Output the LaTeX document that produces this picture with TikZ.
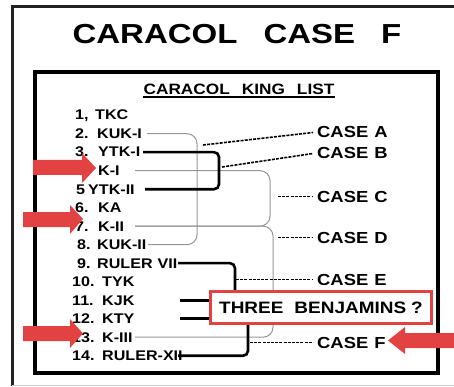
\documentclass[tikz,border=0pt]{standalone}
\usepackage{fontspec}
\setmainfont{Liberation Sans}
\newfontfamily\kingfont[FakeStretch=1.15]{Liberation Sans}
\newfontfamily\titlefont[FakeStretch=1.2]{Liberation Sans}
\usetikzlibrary{calc}
\definecolor{markred}{RGB}{226, 66, 66}
\definecolor{framegray}{RGB}{34, 34, 34}
\definecolor{linkgray}{RGB}{150, 150, 150}
\tikzset{
  titletext/.style  = {inner sep=0pt, font=\titlefont\bfseries\fontsize{27.5}{31}\selectfont},
  listhead/.style   = {inner sep=0pt, font=\kingfont\bfseries\fontsize{15}{17}\selectfont},
  kingname/.style   = {anchor=base west, inner sep=0pt, font=\kingfont\bfseries\fontsize{14}{16}\selectfont},
  casename/.style   = {anchor=base west, inner ysep=0pt, inner xsep=4pt, font=\kingfont\bfseries\fontsize{16}{18}\selectfont},
  benjbox/.style    = {draw=markred, line width=3pt, fill=white, minimum width=221pt, minimum height=32pt, inner sep=0pt, font=\kingfont\bfseries\fontsize{16.5}{18}\selectfont},
  graylink/.style   = {linkgray, line width=1pt, rounded corners=10pt},
  blacklink/.style  = {black, line width=2.6pt, rounded corners=5pt},
  caselink/.style   = {black, line width=1.6pt, dash pattern=on 3pt off 1.2pt},
  redarrow/.style   = {fill=markred},
}

\begin{document}
\begin{tikzpicture}[x=1pt, y=-1pt]
\useasboundingbox (0,0) rectangle (454,387);

% ===== frames =====
\draw[framegray, line width=3pt] (12,386) -- (12,7) -- (454,7);
\draw[black!20, line width=0.8pt] (12,385.5) -- (454,385.5);
\draw[black, line width=3.5pt] (35,72) rectangle (438,373);

% ===== titles =====
\node[titletext] (title) at (237,34.5) {CARACOL\hspace{26pt}CASE\hspace{26pt}F};
\node[listhead] (listtitle) at (239,89) {CARACOL\hspace{12pt}KING\hspace{12pt}LIST};
\draw[line width=1.4pt] ([yshift=-2.5pt]listtitle.south west) -- ([yshift=-2.5pt]listtitle.south east);

% ===== king list =====
\foreach \i/\x/\w/\num/\name in {
  1/75/20/{1,}/TKC, 2/75/22/2./KUK-I, 3/75/23/3./YTK-I, 4/75/23/4./K-I,
  5/76/12/5/YTK-II, 6/75/23/6./KA, 7/75/23/7./K-II, 8/77/20/8./KUK-II,
  9/77/20/9./{RULER\hspace{5pt}VII}, 10/72/30/10./TYK, 11/72/30/11./KJK,
  12/72/30/12./KTY, 13/72/30/13./K-III, 14/72/30/14./RULER-XII}
  \node[kingname] (k\i) at (\x,{120+18.5*(\i-1)}) {\makebox[\w pt][l]{\num}\name};

% ===== cases =====
\node[casename] (caseA) at (313,138) {CASE\hspace{6pt}A};
\node[casename] (caseB) at (313,159) {CASE\hspace{6pt}B};
\node[casename] (caseC) at (313,202) {CASE\hspace{6pt}C};
\node[casename] (caseD) at (313,243) {CASE\hspace{6pt}D};
\node[casename] (caseE) at (313,285) {CASE\hspace{6pt}E};
\node[casename] (caseF) at (313,348) {CASE\hspace{6pt}F};

% ===== gray links =====
\draw[graylink] (147,0 |- k2) -- (197,0 |- k2) -- (197,0 |- k8) -- (148,0 |- k8);
\draw[graylink] (135,0 |- k4) -- (270,0 |- k4) -- (270,0 |- k7) -- (135,0 |- k7);
\draw[graylink] (135,0 |- k7) -- (273,0 |- k7) -- (273,0 |- k13) -- (135,0 |- k13);

% ===== black links =====
\draw[blacklink] (143,0 |- k3) -- (219,0 |- k3) -- (219,0 |- k5) -- (145,0 |- k5);
\draw[blacklink] (178,0 |- k9) -- (235,0 |- k9) -- (235,305) -- (248,305) -- (248,0 |- k14) -- (178,0 |- k14);
\draw[blacklink] (180,0 |- k11) -- (235,0 |- k11);
\draw[blacklink] (180,0 |- k12) -- (235,0 |- k12);

% ===== dashed case links =====
\coordinate (dA) at (203,145);
\coordinate (dB) at (222,167);
\coordinate (dC) at (278,0 |- caseC);
\coordinate (dD) at (278,0 |- caseD);
\coordinate (dE) at (236,0 |- caseE);
\coordinate (dF) at (250,0 |- caseF);
\draw[caselink] (dA) -- (caseA.west);
\draw[caselink] (dB) -- (caseB.west);
\draw[caselink] (dC) -- (caseC.west);
\draw[caselink] (dD) -- (caseD.west);
\draw[caselink] (dE) -- (caseE.west);
\draw[caselink] (dF) -- (caseF.west);

% ===== red box =====
\node[benjbox] (benj) at (321,307.5) {THREE\hspace{11pt}BENJAMINS\hspace{5pt}?};

% ===== red arrows =====
\fill[redarrow] (33,160) -- (82,160) -- (82,153) -- (96,168) -- (82,183) -- (82,175) -- (33,175) -- cycle;
\fill[redarrow] (23,212) -- (70,212) -- (70,205) -- (83,219) -- (70,234) -- (70,227) -- (23,227) -- cycle;
\fill[redarrow] (23,326) -- (70,326) -- (70,319) -- (83,333.5) -- (70,348) -- (70,341) -- (23,341) -- cycle;
\fill[redarrow] (454,333) -- (405,333) -- (405,327) -- (388,340.5) -- (405,354) -- (405,348) -- (454,348) -- cycle;

\end{tikzpicture}
\end{document}
